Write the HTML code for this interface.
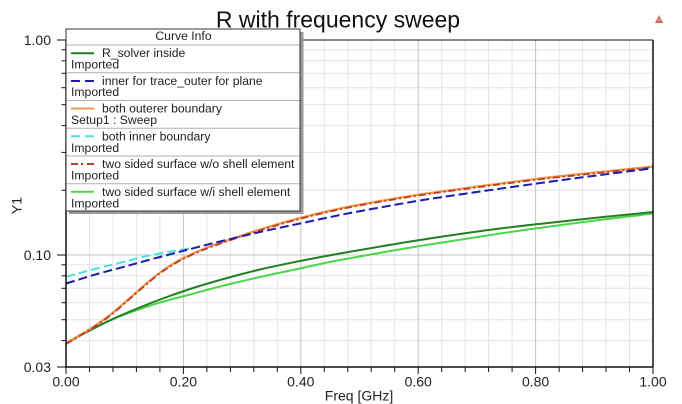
<!DOCTYPE html>
<html>
<head>
<meta charset="utf-8">
<style>
  html, body { margin:0; padding:0; background:#ffffff; }
  svg { display:block; }
  text { font-family: "Liberation Sans", Arial, sans-serif; }
</style>
</head>
<body>
<svg id="chart" width="682" height="404" viewBox="0 0 682 404" xmlns="http://www.w3.org/2000/svg">
  <rect x="0" y="0" width="682" height="404" fill="#ffffff"/>

  <!-- Title -->
  <text x="338" y="27.5" font-size="23" text-anchor="middle" fill="#111">R with frequency sweep</text>
  <!-- small icon -->
  <polygon points="659,15 655,23 663,23" fill="#c06a5a"/>
  <polygon points="659,18 657.5,21 660.5,21" fill="#e8b0a0"/>

  <!-- Grid: vertical minor -->
  <g stroke="#e4e4e4" stroke-width="1">
    <line x1="89.5" y1="40" x2="89.5" y2="367"/>
    <line x1="113" y1="40" x2="113" y2="367"/>
    <line x1="136.4" y1="40" x2="136.4" y2="367"/>
    <line x1="159.9" y1="40" x2="159.9" y2="367"/>
    <line x1="206.9" y1="40" x2="206.9" y2="367"/>
    <line x1="230.4" y1="40" x2="230.4" y2="367"/>
    <line x1="253.8" y1="40" x2="253.8" y2="367"/>
    <line x1="277.3" y1="40" x2="277.3" y2="367"/>
    <line x1="324.3" y1="40" x2="324.3" y2="367"/>
    <line x1="347.8" y1="40" x2="347.8" y2="367"/>
    <line x1="371.2" y1="40" x2="371.2" y2="367"/>
    <line x1="394.7" y1="40" x2="394.7" y2="367"/>
    <line x1="441.7" y1="40" x2="441.7" y2="367"/>
    <line x1="465.2" y1="40" x2="465.2" y2="367"/>
    <line x1="488.6" y1="40" x2="488.6" y2="367"/>
    <line x1="512.1" y1="40" x2="512.1" y2="367"/>
    <line x1="559.1" y1="40" x2="559.1" y2="367"/>
    <line x1="582.6" y1="40" x2="582.6" y2="367"/>
    <line x1="606" y1="40" x2="606" y2="367"/>
    <line x1="629.5" y1="40" x2="629.5" y2="367"/>
    <!-- horizontal minor -->
    <line x1="66" y1="340.6" x2="653" y2="340.6"/>
    <line x1="66" y1="319.7" x2="653" y2="319.7"/>
    <line x1="66" y1="302.7" x2="653" y2="302.7"/>
    <line x1="66" y1="288.3" x2="653" y2="288.3"/>
    <line x1="66" y1="275.8" x2="653" y2="275.8"/>
    <line x1="66" y1="264.8" x2="653" y2="264.8"/>
    <line x1="66" y1="190.3" x2="653" y2="190.3"/>
    <line x1="66" y1="152.4" x2="653" y2="152.4"/>
    <line x1="66" y1="125.6" x2="653" y2="125.6"/>
    <line x1="66" y1="104.7" x2="653" y2="104.7"/>
    <line x1="66" y1="87.7" x2="653" y2="87.7"/>
    <line x1="66" y1="73.3" x2="653" y2="73.3"/>
    <line x1="66" y1="60.8" x2="653" y2="60.8"/>
    <line x1="66" y1="49.8" x2="653" y2="49.8"/>
  </g>
  <!-- Grid: major -->
  <g stroke="#c4c4c4" stroke-width="1">
    <line x1="183.4" y1="40" x2="183.4" y2="367"/>
    <line x1="300.8" y1="40" x2="300.8" y2="367"/>
    <line x1="418.2" y1="40" x2="418.2" y2="367"/>
    <line x1="535.6" y1="40" x2="535.6" y2="367"/>
    <line x1="66" y1="255" x2="653" y2="255"/>
  </g>

  <!-- Series -->
  <g fill="none" stroke-linejoin="round" stroke-linecap="butt">
    <!-- light green: two sided surface w/i shell element -->
    <polyline class="smooth" fill="none" stroke="#4cd64c" stroke-width="2" points="66,343 80,335.5 93,328.8 110,320.5 130,312.5 160,302.5 190,294.5 220,286.5 260,277 300,268.5 340,260 420,246 500,233.5 580,222.5 653,213.5"/>
    <!-- dark green: R_solver inside -->
    <polyline class="smooth" fill="none" stroke="#257d25" stroke-width="2" points="66,344 80,335.5 93,328.8 110,320.3 130,311.5 160,299.5 190,289 220,280 260,269.5 300,261 340,253.5 420,240 500,228.5 580,219.5 653,212"/>
    <!-- orange: both outerer boundary -->
    <polyline class="smooth" fill="none" stroke="#f29a4c" stroke-width="2.2" points="66,343 80,335 93,327 110,315 127,300.5 143,286.5 160,272.5 177,261.5 193,253.5 210,246.5 230,239.5 260,229.5 300,218 340,208.5 380,201 423,194 470,187.5 537,178.8 600,172 653,166.5"/>
    <!-- red dash-dot: two sided surface w/o shell element -->
    <polyline class="smooth" fill="none" stroke="#c03a2a" stroke-width="1.8" stroke-dasharray="7,3,2,3" transform="translate(0,0.8)" points="66,343 80,335 93,327 110,315 127,300.5 143,286.5 160,272.5 177,261.5 193,253.5 210,246.5 230,239.5 260,229.5 300,218 340,208.5 380,201 423,194 470,187.5 537,178.8 600,172 653,166.5"/>
    <!-- cyan: both inner boundary -->
    <polyline class="smooth" fill="none" stroke="#4fe0e0" stroke-width="2" stroke-dasharray="9,4" points="66,276.7 80,273 93,269.5 110,265.2 127,261 143,257 160,253.5 177,250.5 193,248"/>
    <!-- blue: inner for trace_outer for plane -->
    <polyline class="smooth" fill="none" stroke="#1c1cae" stroke-width="2" stroke-dasharray="9,4" points="66,283.5 80,279.2 93,275.2 110,270.5 127,266 143,261.5 160,257 177,252.5 193,248.3 220,241.5 260,232 300,223.5 340,215 380,207.5 423,200 470,193 537,183.5 600,175 653,168.3"/>
  </g>

  <!-- Frame -->
  <line x1="66" y1="40" x2="653" y2="40" stroke="#111" stroke-width="1"/>
  <line x1="653" y1="40" x2="653" y2="367" stroke="#111" stroke-width="1.5"/>
  <line x1="66" y1="40" x2="66" y2="367.5" stroke="#111" stroke-width="1.5"/>
  <line x1="65" y1="367" x2="653.5" y2="367" stroke="#111" stroke-width="1.5"/>

  <!-- Y ticks -->
  <g stroke="#111" stroke-width="1">
    <line x1="57" y1="40" x2="66" y2="40"/>
    <line x1="57" y1="255" x2="66" y2="255"/>
    <line x1="57" y1="367" x2="66" y2="367"/>
    <line x1="61.5" y1="340.6" x2="66" y2="340.6"/>
    <line x1="61.5" y1="319.7" x2="66" y2="319.7"/>
    <line x1="61.5" y1="302.7" x2="66" y2="302.7"/>
    <line x1="61.5" y1="288.3" x2="66" y2="288.3"/>
    <line x1="61.5" y1="275.8" x2="66" y2="275.8"/>
    <line x1="61.5" y1="264.8" x2="66" y2="264.8"/>
    <line x1="61.5" y1="190.3" x2="66" y2="190.3"/>
    <line x1="61.5" y1="152.4" x2="66" y2="152.4"/>
    <line x1="61.5" y1="125.6" x2="66" y2="125.6"/>
    <line x1="61.5" y1="104.7" x2="66" y2="104.7"/>
    <line x1="61.5" y1="87.7" x2="66" y2="87.7"/>
    <line x1="61.5" y1="73.3" x2="66" y2="73.3"/>
    <line x1="61.5" y1="60.8" x2="66" y2="60.8"/>
    <line x1="61.5" y1="49.8" x2="66" y2="49.8"/>
  </g>
  <!-- X ticks -->
  <g stroke="#111" stroke-width="1">
    <line x1="66" y1="367" x2="66" y2="374"/>
    <line x1="183.4" y1="367" x2="183.4" y2="374"/>
    <line x1="300.8" y1="367" x2="300.8" y2="374"/>
    <line x1="418.2" y1="367" x2="418.2" y2="374"/>
    <line x1="535.6" y1="367" x2="535.6" y2="374"/>
    <line x1="653" y1="367" x2="653" y2="374"/>
    <line x1="89.5" y1="367" x2="89.5" y2="372"/>
    <line x1="113" y1="367" x2="113" y2="372"/>
    <line x1="136.4" y1="367" x2="136.4" y2="372"/>
    <line x1="159.9" y1="367" x2="159.9" y2="372"/>
    <line x1="206.9" y1="367" x2="206.9" y2="372"/>
    <line x1="230.4" y1="367" x2="230.4" y2="372"/>
    <line x1="253.8" y1="367" x2="253.8" y2="372"/>
    <line x1="277.3" y1="367" x2="277.3" y2="372"/>
    <line x1="324.3" y1="367" x2="324.3" y2="372"/>
    <line x1="347.8" y1="367" x2="347.8" y2="372"/>
    <line x1="371.2" y1="367" x2="371.2" y2="372"/>
    <line x1="394.7" y1="367" x2="394.7" y2="372"/>
    <line x1="441.7" y1="367" x2="441.7" y2="372"/>
    <line x1="465.2" y1="367" x2="465.2" y2="372"/>
    <line x1="488.6" y1="367" x2="488.6" y2="372"/>
    <line x1="512.1" y1="367" x2="512.1" y2="372"/>
    <line x1="559.1" y1="367" x2="559.1" y2="372"/>
    <line x1="582.6" y1="367" x2="582.6" y2="372"/>
    <line x1="606" y1="367" x2="606" y2="372"/>
    <line x1="629.5" y1="367" x2="629.5" y2="372"/>
  </g>

  <!-- Axis labels -->
  <g font-size="14" fill="#222">
    <text x="51" y="45" text-anchor="end">1.00</text>
    <text x="51" y="260" text-anchor="end">0.10</text>
    <text x="51" y="372" text-anchor="end">0.03</text>
    <text x="66" y="386.5" text-anchor="middle">0.00</text>
    <text x="183.4" y="386.5" text-anchor="middle">0.20</text>
    <text x="300.8" y="386.5" text-anchor="middle">0.40</text>
    <text x="418.2" y="386.5" text-anchor="middle">0.60</text>
    <text x="535.6" y="386.5" text-anchor="middle">0.80</text>
    <text x="653" y="386.5" text-anchor="middle">1.00</text>
    <text x="359" y="400.5" text-anchor="middle">Freq [GHz]</text>
    <text x="21.5" y="205.5" text-anchor="middle" transform="rotate(-90 21.5 205.5)">Y1</text>
  </g>

  <!-- Legend -->
  <rect x="69" y="32" width="234.5" height="182" fill="#9a9a9a"/>
  <rect x="66" y="29" width="234" height="182" fill="#ffffff" stroke="#333" stroke-width="1"/>
  <g stroke="#b0b0b0" stroke-width="1">
    <line x1="66.5" y1="45" x2="299.5" y2="45"/>
    <line x1="66.5" y1="72.7" x2="299.5" y2="72.7"/>
    <line x1="66.5" y1="100.5" x2="299.5" y2="100.5"/>
    <line x1="66.5" y1="128.3" x2="299.5" y2="128.3"/>
    <line x1="66.5" y1="156" x2="299.5" y2="156"/>
    <line x1="66.5" y1="183.8" x2="299.5" y2="183.8"/>
  </g>
  <g font-size="12.2" fill="#222">
    <text x="183.5" y="40" text-anchor="middle">Curve Info</text>

    <line x1="71" y1="53.3" x2="94" y2="53.3" stroke="#257d25" stroke-width="2"/>
    <text x="102" y="57">R_solver inside</text>
    <text x="71" y="68.5">Imported</text>

    <line x1="71" y1="81" x2="94" y2="81" stroke="#1c1cae" stroke-width="2" stroke-dasharray="9,5"/>
    <text x="102" y="84.8">inner for trace_outer for plane</text>
    <text x="71" y="96.2">Imported</text>

    <line x1="71" y1="108.5" x2="94" y2="108.5" stroke="#f29a4c" stroke-width="2"/>
    <text x="102" y="112.5">both outerer boundary</text>
    <text x="71" y="124">Setup1 : Sweep</text>

    <line x1="71" y1="136.3" x2="94" y2="136.3" stroke="#4fe0e0" stroke-width="2" stroke-dasharray="9,5"/>
    <text x="102" y="140.3">both inner boundary</text>
    <text x="71" y="151.8">Imported</text>

    <line x1="71" y1="164" x2="94" y2="164" stroke="#c03a2a" stroke-width="2" stroke-dasharray="7,3,2,4"/>
    <text x="102" y="168">two sided surface w/o shell element</text>
    <text x="71" y="179.5">Imported</text>

    <line x1="71" y1="191.8" x2="94" y2="191.8" stroke="#4cd64c" stroke-width="2"/>
    <text x="102" y="195.8">two sided surface w/i shell element</text>
    <text x="71" y="207.3">Imported</text>
  </g>
</svg>
<script>
(function(){
  var NS = "http://www.w3.org/2000/svg";
  var pls = document.querySelectorAll("polyline.smooth");
  for (var k = 0; k < pls.length; k++) {
    var pl = pls[k];
    var raw = pl.getAttribute("points").trim().split(/\s+/);
    var pts = raw.map(function(s){ var a = s.split(","); return [parseFloat(a[0]), parseFloat(a[1])]; });
    if (pts.length < 2) continue;
    var d = "M" + pts[0][0] + "," + pts[0][1];
    for (var i = 0; i < pts.length - 1; i++) {
      var p0 = pts[i-1] || pts[i], p1 = pts[i], p2 = pts[i+1], p3 = pts[i+2] || pts[i+1];
      var c1x = p1[0] + (p2[0]-p0[0])/6, c1y = p1[1] + (p2[1]-p0[1])/6;
      var c2x = p2[0] - (p3[0]-p1[0])/6, c2y = p2[1] - (p3[1]-p1[1])/6;
      d += " C" + c1x.toFixed(2) + "," + c1y.toFixed(2) + " " + c2x.toFixed(2) + "," + c2y.toFixed(2) + " " + p2[0] + "," + p2[1];
    }
    var path = document.createElementNS(NS, "path");
    for (var j = 0; j < pl.attributes.length; j++) {
      var at = pl.attributes[j];
      if (at.name !== "points" && at.name !== "class") path.setAttribute(at.name, at.value);
    }
    path.setAttribute("d", d);
    path.setAttribute("fill", "none");
    pl.parentNode.replaceChild(path, pl);
  }
})();
</script>
</body>
</html>
